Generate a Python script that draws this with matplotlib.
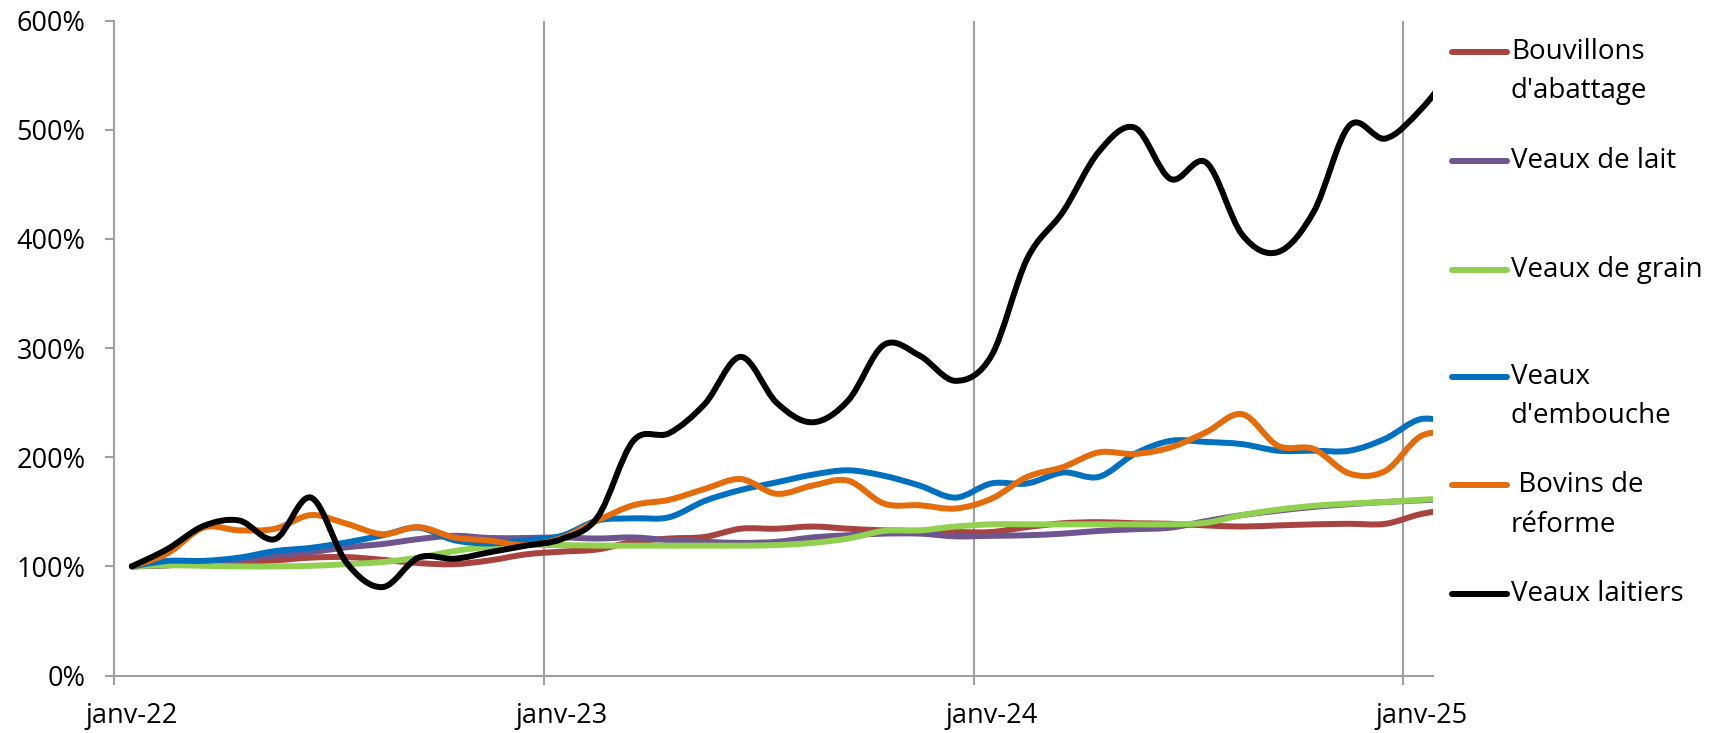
import numpy as np
import matplotlib
matplotlib.use("Agg")
import matplotlib.pyplot as plt
from matplotlib.path import Path
from matplotlib.patches import PathPatch
from matplotlib.lines import Line2D

plt.rcParams['font.family'] = ['Open Sans', 'DejaVu Sans']

# Monthly index values (%), Jan 2022 ... (last point partly beyond the axis edge)
bouvillons = [100, 101, 103, 104, 105.5, 108, 108.5, 106, 103, 102, 105.5, 111,
              113.5, 115.5, 122.5, 125.5, 127, 134.5, 134.5, 136.5, 134.5, 133, 132.5, 131.5,
              131.5, 136, 139.5, 140.5, 139.5, 139, 137.5, 136.5, 137.5, 138.5, 139, 139,
              148, 153]
veaux_lait = [100, 101, 103, 106, 110, 113, 117.5, 120.5, 125, 128, 126, 126,
              126.5, 125.5, 126.5, 124, 122.5, 121.5, 122.5, 126.5, 128.5, 130, 130, 127.5,
              128, 128.5, 130, 132.5, 134, 135.5, 141.5, 147, 151, 154.5, 157, 159,
              160.5, 162]
veaux_grain = [100, 101, 100.5, 100, 100, 100.5, 102, 104, 108, 114, 118, 119.5,
               119.5, 119, 119, 119, 119, 119, 119.5, 121.5, 125.5, 132.5, 133, 136.5,
               138.5, 138.5, 138.5, 138.5, 138.5, 138.5, 140, 147, 152, 155.5, 157.5, 159,
               161, 163]
veaux_embouche = [100, 105, 105, 108, 114, 117, 122, 128.5, 135.5, 124, 121, 124,
                  128, 142, 144, 145, 160, 170, 177, 184, 188, 183, 174, 163,
                  176, 176, 186, 182, 203, 215, 214, 212, 206, 206, 206, 217,
                  235, 230]
bovins_reforme = [100, 112, 135.5, 133, 134.5, 147, 139, 129.5, 136, 126.5, 123.5, 119.5,
                  126, 142, 156, 161, 171, 180, 166.5, 174, 178.5, 157.5, 156, 153,
                  162, 182, 191, 204.5, 203, 209, 223, 239.5, 210.5, 207.5, 185, 187.5,
                  219.5, 222]
veaux_laitiers = [100, 116, 137, 142, 125, 163, 103, 81, 108, 107, 113, 119,
                  125, 145, 215, 222, 249, 292, 250, 232, 252, 303, 293, 270,
                  293, 382, 425, 480, 502, 455, 470, 404, 388, 425, 504, 492,
                  519, 560]

series_labels = ["Bouvillons\nd'abattage", "Veaux de lait", "Veaux de grain",
                 "Veaux\nd'embouche", " Bovins de\nréforme", "Veaux laitiers"]
series_values = [bouvillons, veaux_lait, veaux_grain, veaux_embouche, bovins_reforme, veaux_laitiers]
colors = ['#A9433F', '#6F5590', '#92D050', '#0070C0', '#E46C0A', '#000000']

tick_labels = ['janv-22', 'janv-23', 'janv-24', 'janv-25']
tick_months = [0, 12, 24, 36]
y_ticks = [0, 100, 200, 300, 400, 500, 600]


def smooth_path(x, y):
    n = len(x)
    verts = [(x[0], y[0])]
    codes = [Path.MOVETO]
    for i in range(n - 1):
        i0 = max(i - 1, 0)
        i3 = min(i + 2, n - 1)
        c1 = (x[i] + (x[i + 1] - x[i0]) / 6.0, y[i] + (y[i + 1] - y[i0]) / 6.0)
        c2 = (x[i + 1] - (x[i3] - x[i]) / 6.0, y[i + 1] - (y[i3] - y[i]) / 6.0)
        verts += [c1, c2, (x[i + 1], y[i + 1])]
        codes += [Path.CURVE4] * 3
    return Path(verts, codes)


W, H = 1721, 733
fig = plt.figure(figsize=(W / 100, H / 100), dpi=100)
ax_top, ax_bot = 20.7, 675.5
ax = fig.add_axes([114 / W, (H - ax_bot) / H, (1433 - 114) / W, (ax_bot - ax_top) / H])

for vals, c in zip(series_values, colors):
    x = np.arange(len(vals)) + 0.5
    p = PathPatch(smooth_path(x, np.asarray(vals, float)), facecolor='none',
                  edgecolor=c, lw=4.3, capstyle='round', joinstyle='round', zorder=3)
    ax.add_patch(p)

ax.set_xlim(0, 36.83)
ax.set_ylim(0, 600)
ax.set_yticks(y_ticks)
ax.set_yticklabels([f"{v}%" for v in y_ticks])
# major ticks at year boundaries (marks only), labels centred on the month
ax.set_xticks(tick_months)
ax.set_xticklabels([''] * len(tick_months))
ax.set_xticks([m + 0.5 for m in tick_months], minor=True)
ax.set_xticklabels(tick_labels, minor=True)
ax.tick_params(axis='x', which='minor', length=0, pad=19, labelsize=19.5)

grid_c = '#A0A0A0'
for m in tick_months[1:]:
    ax.axvline(m, color=grid_c, lw=1.5, zorder=1)
for s in ['top', 'right']:
    ax.spines[s].set_visible(False)
for s in ['left', 'bottom']:
    ax.spines[s].set_color(grid_c)
    ax.spines[s].set_linewidth(1.5)
ax.tick_params(axis='both', which='major', direction='out', length=6.5, width=1.5,
               color=grid_c, labelcolor='black')
ax.tick_params(axis='y', pad=14, labelsize=19.5)

# legend drawn manually
first_y = [51.6, 161.3, 270, 376.5, 485, 593.8]
for lab, c, yy in zip(series_labels, colors, first_y):
    fy = (H - yy) / H
    fig.add_artist(Line2D([1452 / W, 1507 / W], [fy, fy], color=c, lw=4.3,
                          solid_capstyle='round', transform=fig.transFigure))
    for k, line in enumerate(lab.split("\n")):
        fig.text(1511 / W, (H - yy - 39.5 * k) / H, line, fontsize=20,
                 va='center', ha='left')

fig.savefig("out.png", dpi=100)
